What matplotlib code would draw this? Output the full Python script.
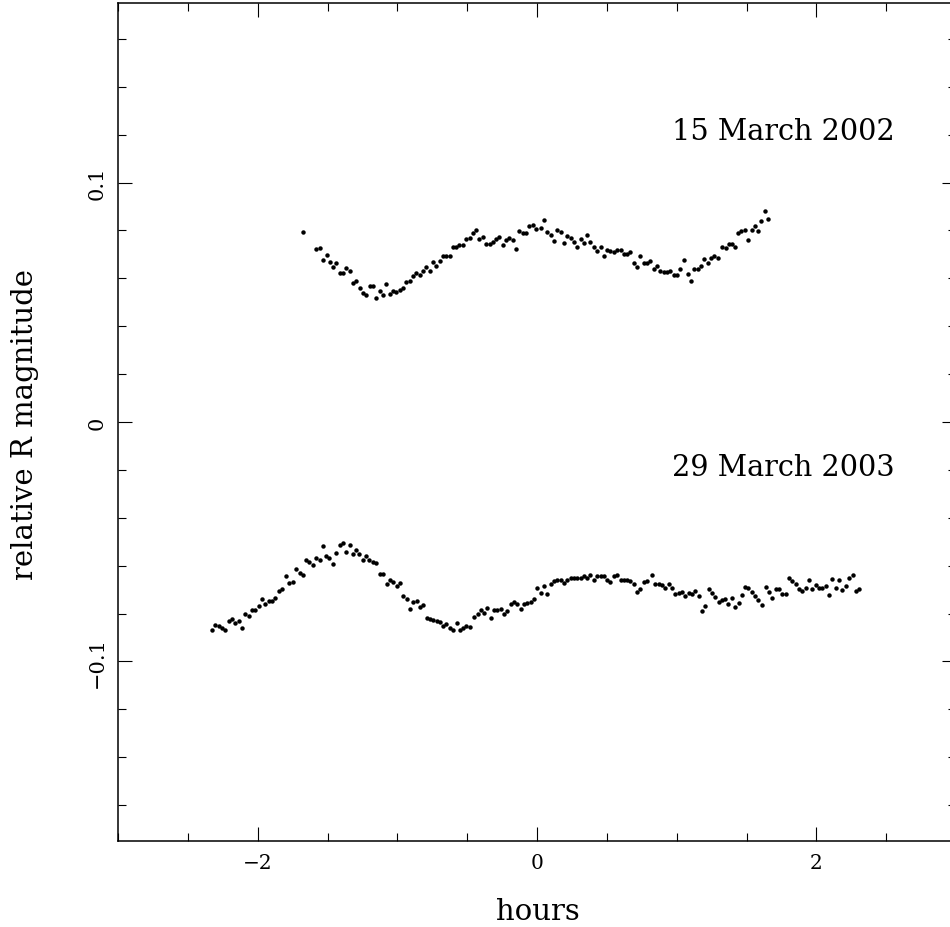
import matplotlib
matplotlib.use("Agg")
import matplotlib.pyplot as plt
from matplotlib.ticker import MultipleLocator

# ---- data -------------------------------------------------------------
hours_2002 = [
    -1.674, -1.581, -1.557, -1.533, -1.507, -1.483, -1.460, -1.436, -1.412, -1.388,
    -1.364, -1.340, -1.317, -1.293, -1.269, -1.245, -1.221, -1.198, -1.174, -1.150,
    -1.126, -1.102, -1.079, -1.055, -1.031, -1.007, -0.983, -0.960, -0.936, -0.912,
    -0.888, -0.864, -0.840, -0.817, -0.793, -0.769, -0.745, -0.721, -0.698, -0.674,
    -0.650, -0.626, -0.602, -0.579, -0.555, -0.531, -0.507, -0.483, -0.460, -0.436,
    -0.412, -0.388, -0.364, -0.340, -0.317, -0.293, -0.269, -0.245, -0.221, -0.198,
    -0.174, -0.150, -0.126, -0.102, -0.079, -0.055, -0.031, -0.007,
    0.026, 0.050, 0.074, 0.098, 0.121, 0.145, 0.169, 0.193, 0.217, 0.240,
    0.264, 0.288, 0.312, 0.336, 0.360, 0.383, 0.407, 0.431, 0.455, 0.479,
    0.502, 0.526, 0.550, 0.574, 0.598, 0.621, 0.645, 0.669, 0.693, 0.717,
    0.740, 0.764, 0.788, 0.812, 0.836, 0.860, 0.883, 0.907, 0.931, 0.955,
    0.979, 1.002, 1.026, 1.055, 1.079, 1.102, 1.126, 1.150, 1.174, 1.198,
    1.221, 1.245, 1.269, 1.293, 1.326, 1.350, 1.374, 1.398, 1.421, 1.440,
    1.464, 1.488, 1.512, 1.536, 1.560, 1.583, 1.607, 1.631, 1.655,
]
mag_2002 = [
    0.0795, 0.0722, 0.0728, 0.0678, 0.0696, 0.0667, 0.0647, 0.0662, 0.0622, 0.0622,
    0.0644, 0.0632, 0.0579, 0.0589, 0.0559, 0.0540, 0.0531, 0.0566, 0.0568, 0.0516,
    0.0548, 0.0529, 0.0575, 0.0534, 0.0548, 0.0541, 0.0551, 0.0561, 0.0586, 0.0589,
    0.0610, 0.0622, 0.0612, 0.0629, 0.0647, 0.0632, 0.0668, 0.0650, 0.0672, 0.0692,
    0.0692, 0.0695, 0.0729, 0.0731, 0.0739, 0.0738, 0.0766, 0.0770, 0.0791, 0.0802,
    0.0766, 0.0773, 0.0743, 0.0742, 0.0750, 0.0766, 0.0771, 0.0738, 0.0762, 0.0767,
    0.0762, 0.0722, 0.0796, 0.0788, 0.0788, 0.0817, 0.0821, 0.0806,
    0.0809, 0.0842, 0.0794, 0.0780, 0.0757, 0.0801, 0.0794, 0.0749, 0.0777, 0.0768,
    0.0752, 0.0732, 0.0764, 0.0746, 0.0780, 0.0752, 0.0732, 0.0714, 0.0731, 0.0692,
    0.0717, 0.0713, 0.0710, 0.0717, 0.0718, 0.0703, 0.0702, 0.0711, 0.0664, 0.0649,
    0.0693, 0.0662, 0.0662, 0.0672, 0.0639, 0.0651, 0.0632, 0.0628, 0.0625, 0.0630,
    0.0612, 0.0612, 0.0639, 0.0675, 0.0619, 0.0590, 0.0640, 0.0640, 0.0651, 0.0679,
    0.0662, 0.0683, 0.0692, 0.0686, 0.0729, 0.0727, 0.0742, 0.0745, 0.0729, 0.0788,
    0.0799, 0.0802, 0.0762, 0.0802, 0.0817, 0.0798, 0.0838, 0.0883, 0.0848,
]

hours_2003 = [
    -2.326, -2.302, -2.279, -2.255, -2.231, -2.207, -2.183, -2.160, -2.136, -2.112,
    -2.088, -2.064, -2.040, -2.017, -1.993, -1.969, -1.945, -1.921, -1.898, -1.874,
    -1.850, -1.826, -1.795, -1.779, -1.748, -1.724, -1.700, -1.676, -1.652, -1.629,
    -1.605, -1.581, -1.557, -1.533, -1.510, -1.486, -1.462, -1.438, -1.414, -1.390,
    -1.367, -1.338, -1.319, -1.295, -1.271, -1.248, -1.224, -1.200, -1.176, -1.152,
    -1.124, -1.105, -1.076, -1.052, -1.029, -1.005, -0.981, -0.957, -0.933, -0.910,
    -0.886, -0.862, -0.838, -0.814, -0.790, -0.767, -0.743, -0.719, -0.695, -0.671,
    -0.648, -0.624, -0.600, -0.576, -0.552, -0.529, -0.505, -0.481,
    -0.450, -0.426, -0.402, -0.379, -0.355, -0.331, -0.307, -0.283, -0.260, -0.236,
    -0.212, -0.188, -0.164, -0.140, -0.117, -0.093, -0.069, -0.045, -0.021, 0.002,
    0.026, 0.050, 0.074, 0.098, 0.121, 0.145, 0.169, 0.193, 0.217, 0.240,
    0.264, 0.288, 0.312, 0.336, 0.360, 0.383, 0.407, 0.431, 0.455, 0.479,
    0.502, 0.526, 0.550, 0.574, 0.598, 0.621, 0.645, 0.669, 0.693, 0.717,
    0.740, 0.764, 0.788,
    0.824, 0.848, 0.871, 0.895, 0.919, 0.943, 0.967, 0.990, 1.014, 1.038,
    1.062, 1.086, 1.110, 1.133, 1.157, 1.181, 1.205, 1.229, 1.252, 1.276,
    1.300, 1.324, 1.348, 1.371, 1.395, 1.419, 1.443, 1.467, 1.490, 1.514,
    1.538, 1.562, 1.581,
    1.610, 1.638, 1.662, 1.686, 1.710, 1.733, 1.757, 1.781, 1.805, 1.829,
    1.852, 1.876, 1.900, 1.924, 1.948, 1.971, 1.995, 2.019, 2.043, 2.067,
    2.090, 2.114, 2.138, 2.162, 2.186, 2.210, 2.233, 2.262, 2.281, 2.305,
]
mag_2003 = [
    -0.0870, -0.0848, -0.0854, -0.0859, -0.0868, -0.0831, -0.0821, -0.0840, -0.0831, -0.0861,
    -0.0803, -0.0812, -0.0787, -0.0787, -0.0770, -0.0738, -0.0762, -0.0748, -0.0748, -0.0734,
    -0.0704, -0.0696, -0.0644, -0.0672, -0.0669, -0.0614, -0.0630, -0.0640, -0.0575, -0.0586,
    -0.0597, -0.0566, -0.0575, -0.0516, -0.0558, -0.0569, -0.0591, -0.0547, -0.0513, -0.0505,
    -0.0541, -0.0513, -0.0552, -0.0536, -0.0552, -0.0575, -0.0558, -0.0575, -0.0583, -0.0589,
    -0.0636, -0.0633, -0.0675, -0.0658, -0.0669, -0.0686, -0.0672, -0.0725, -0.0739, -0.0781,
    -0.0750, -0.0748, -0.0773, -0.0764, -0.0817, -0.0823, -0.0826, -0.0831, -0.0837, -0.0854,
    -0.0845, -0.0859, -0.0868, -0.0840, -0.0868, -0.0859, -0.0851, -0.0856,
    -0.0815, -0.0803, -0.0787, -0.0796, -0.0777, -0.0817, -0.0787, -0.0784, -0.0781, -0.0801,
    -0.0789, -0.0762, -0.0750, -0.0759, -0.0781, -0.0762, -0.0756, -0.0752, -0.0739, -0.0695,
    -0.0713, -0.0683, -0.0718, -0.0678, -0.0664, -0.0658, -0.0661, -0.0672, -0.0660, -0.0653,
    -0.0653, -0.0650, -0.0653, -0.0643, -0.0653, -0.0637, -0.0661, -0.0642, -0.0642, -0.0642,
    -0.0658, -0.0669, -0.0644, -0.0639, -0.0658, -0.0658, -0.0658, -0.0664, -0.0675, -0.0710,
    -0.0696, -0.0667, -0.0664,
    -0.0640, -0.0675, -0.0675, -0.0682, -0.0692, -0.0678, -0.0692, -0.0718, -0.0713, -0.0710,
    -0.0728, -0.0713, -0.0717, -0.0706, -0.0727, -0.0789, -0.0767, -0.0697, -0.0714, -0.0732,
    -0.0752, -0.0745, -0.0739, -0.0759, -0.0736, -0.0774, -0.0755, -0.0724, -0.0689, -0.0695,
    -0.0711, -0.0728, -0.0742,
    -0.0764, -0.0689, -0.0710, -0.0734, -0.0697, -0.0699, -0.0717, -0.0717, -0.0651, -0.0664,
    -0.0678, -0.0697, -0.0704, -0.0692, -0.0660, -0.0697, -0.0679, -0.0692, -0.0692, -0.0685,
    -0.0722, -0.0657, -0.0692, -0.0661, -0.0702, -0.0683, -0.0650, -0.0640, -0.0704, -0.0696,
]

xticks = [-2, 0, 2]
xtick_labels = ["\u22122", "0", "2"]
yticks = [-0.1, 0.0, 0.1]
ytick_labels = ["\u22120.1", "0", "0.1"]
label_2002 = "15 March 2002"
label_2003 = "29 March 2003"

# ---- figure -----------------------------------------------------------
plt.rcParams["font.family"] = ["DejaVu Serif"]
W, H = 950, 928
fig = plt.figure(figsize=(W / 100, H / 100), dpi=100)
ax = fig.add_axes([118 / W, 1 - 842 / H, 838 / W, 838 / H])

ax.plot(hours_2002, mag_2002, "o", color="black", markersize=3.2, markeredgewidth=0)
ax.plot(hours_2003, mag_2003, "o", color="black", markersize=3.2, markeredgewidth=0)

ax.set_xlim(-3, 3)
ax.set_ylim(-0.175, 0.175)

ax.set_xticks(xticks, labels=xtick_labels)
ax.set_yticks(yticks, labels=ytick_labels)
ax.xaxis.set_minor_locator(MultipleLocator(0.5))
ax.yaxis.set_minor_locator(MultipleLocator(0.02))

ax.tick_params(which="both", direction="in", top=True, right=True, width=0.8, color="black")
ax.tick_params(which="major", length=10)
ax.tick_params(which="minor", length=5.8)
ax.tick_params(axis="x", which="major", labelsize=14.5, pad=9)
ax.tick_params(axis="y", which="major", labelsize=15, pad=8, labelrotation=90)
for lbl in ax.get_yticklabels():
    lbl.set_verticalalignment("center")

for sp in ax.spines.values():
    sp.set_linewidth(1.1)

ax.text(2.564, 0.1184, label_2002, ha="right", va="baseline", fontsize=20.7)
ax.text(2.564, -0.0222, label_2003, ha="right", va="baseline", fontsize=20.7)

fig.text(538 / W, 1 - 912 / H, "hours", ha="center", va="center", fontsize=21)
fig.text(25 / W, 1 - 425 / H, "relative R magnitude", ha="center", va="center",
         rotation=90, fontsize=21)

fig.savefig("out.png", dpi=100)
